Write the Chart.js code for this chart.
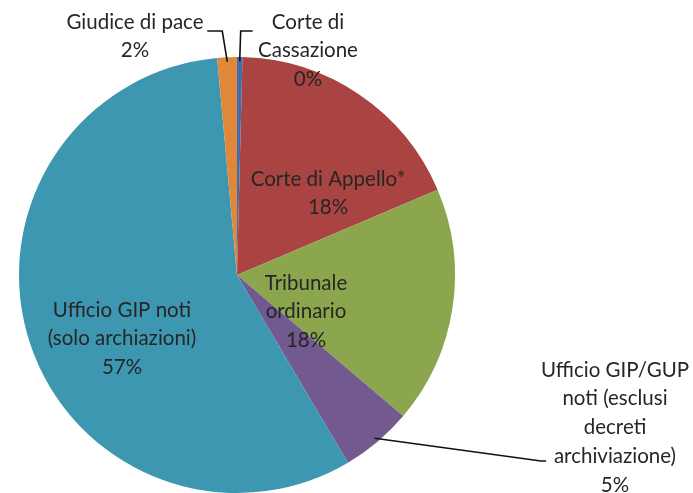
<!DOCTYPE html>
<html>
<head>
<meta charset="utf-8">
<script src="https://cdn.jsdelivr.net/npm/chart.js@4"></script>
<style>
  html, body { margin: 0; padding: 0; background: #fff; }
  #wrap { width: 693px; height: 493px; }
</style>
</head>
<body>
<div id="wrap"><canvas id="pieChart" width="693" height="493"></canvas></div>
<script>
// slices, clockwise from 12 o'clock
const categories = [
  "Corte di Cassazione",
  "Corte di Appello*",
  "Tribunale ordinario",
  "Ufficio GIP/GUP noti (esclusi decreti archiviazione)",
  "Ufficio GIP noti (solo archiazioni)",
  "Giudice di pace"
];
const shares = [0.4, 18.2, 17.6, 5.3, 57.05, 1.45];
const shownPercent = ["0%", "18%", "18%", "5%", "57%", "2%"];
const labelLines = [
  ["Corte di", "Cassazione"],
  ["Corte di Appello*"],
  ["Tribunale", "ordinario"],
  ["Ufficio GIP/GUP", "noti (esclusi", "decreti", "archiviazione)"],
  ["Ufficio GIP noti", "(solo archiazioni)"],
  ["Giudice di pace"]
];
const sliceColors = ["#3F6EB0", "#A94442", "#8BA64D", "#725990", "#3D97B0", "#E0873A"];

// where each label block sits, relative to pie centre (first line y)
const labelSpots = [
  { dx: 71, dy: -253, leader: "right" },
  { dx: 91, dy: -96 },
  { dx: 69, dy: 8 },
  { dx: 378, dy: 95, leader: "diag" },
  { dx: -115, dy: 35 },
  { dx: -102, dy: -253, leader: "left" }
];
const LINE_H = 28.8;

const labelPlugin = {
  id: "sliceLabels",
  afterDraw(chart) {
    const ctx = chart.ctx;
    const arcs = chart.getDatasetMeta(0).data;
    const cx = arcs[0].x, cy = arcs[0].y, r = arcs[0].outerRadius;
    ctx.save();

    // leader lines
    ctx.strokeStyle = "#111";
    ctx.lineWidth = 1.6;
    arcs.forEach((arc, i) => {
      const spot = labelSpots[i];
      if (!spot.leader) return;
      const mid = (arc.startAngle + arc.endAngle) / 2;
      const ex = cx + Math.cos(mid) * r * 0.98;
      const ey = cy + Math.sin(mid) * r * 0.98;
      ctx.beginPath();
      ctx.moveTo(ex, ey);
      if (spot.leader === "left") {
        ctx.lineTo(ex - 5, cy + spot.dy + 9);
        ctx.lineTo(ex - 20, cy + spot.dy + 9);
      } else if (spot.leader === "right") {
        ctx.lineTo(ex + 1, cy + spot.dy + 9);
        ctx.lineTo(ex + 13, cy + spot.dy + 9);
      } else {
        ctx.lineTo(cx + 304, cy + 186);
        ctx.lineTo(cx + 309, cy + 186);
      }
      ctx.stroke();
    });

    ctx.fillStyle = "#262626";
    ctx.font = "20.5px Lato";
    ctx.textAlign = "center";
    ctx.textBaseline = "middle";
    arcs.forEach((arc, i) => {
      const spot = labelSpots[i];
      const lines = labelLines[i].concat([shownPercent[i]]);
      lines.forEach((t, k) => {
        ctx.fillText(t, cx + spot.dx, cy + spot.dy + k * LINE_H);
      });
    });
    ctx.restore();
  }
};

new Chart(document.getElementById("pieChart"), {
  type: "pie",
  data: {
    labels: categories,
    datasets: [{
      data: shares,
      backgroundColor: sliceColors,
      borderWidth: 0
    }]
  },
  options: {
    responsive: false,
    animation: false,
    layout: { padding: { left: 19, top: 57, right: 238, bottom: 0 } },
    plugins: {
      legend: { display: false },
      tooltip: { enabled: false }
    }
  },
  plugins: [labelPlugin]
});
</script>
</body>
</html>
